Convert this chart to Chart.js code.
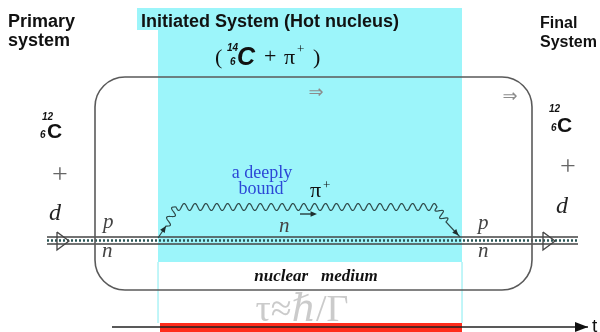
<!DOCTYPE html>
<html>
<head>
<meta charset="utf-8">
<title>Hot nucleus</title>
<script src="https://cdn.jsdelivr.net/npm/chart.js@4"></script>
<style>
  body { margin: 0; background: #fff; }
  canvas { display: block; }
</style>
</head>
<body>
<canvas id="diagram" width="600" height="332"></canvas>
<script>
// The figure is laid out in its own units: 600 across, 332 down (y grows downwards)

// time window of the initiated system (hot nucleus)
const titleBand = [[137, 8], [462, 8], [462, 30], [137, 30], [137, 8]];
const hotBand = [[158, 30], [462, 30], [462, 262], [158, 262], [158, 30]];
const lifetimeBar = [[160, 323], [462, 323], [462, 332], [160, 332], [160, 323]];
const windowLeft = [[158, 262], [158, 323]];
const windowRight = [[462, 262], [462, 323]];

// nucleus box: left, top, right, bottom, corner
const nucleusBox = [95, 77, 532, 290, 30];

// deuteron legs running through the nucleus
const protonLine = [[47, 237], [578, 237]];
const beadLine = [[47, 240.5], [578, 240.5]];
const neutronLine = [[47, 244], [578, 244]];
const arrowIn = [[57, 232], [69, 241], [57, 250], [57, 232]];
const arrowOut = [[543, 232], [555, 241], [543, 250], [543, 232]];

// pion path: emitted by the neutron, bound for a while, reabsorbed
const pionPath = [[158, 238], [166, 226], [176, 207], [437, 207], [446, 222], [460, 237]];
const pionWiggly = [false, true, true, true, false];
const pionArrows = [[[158, 238], [166, 226]], [[446, 222], [460, 237]], [[300, 214], [317, 214]]];

// time axis
const timeAxis = [[112, 327], [588, 327]];

// text: string, x, baseline, style, align
const labels = [
  ['Primary', 8, 27, 'head'],
  ['system', 8, 46, 'head'],
  ['Final', 540, 28, 'headR'],
  ['System', 540, 47, 'headR'],
  ['Initiated System (Hot nucleus)', 141, 27, 'title'],
  ['(', 215, 64, 'sym'],
  ['14', 227, 51, 'iso'],
  ['6', 230, 65, 'iso'],
  ['C', 237, 65, 'cHot'],
  ['+', 264, 63, 'sym'],
  ['π', 284, 64, 'sym'],
  ['+', 297, 53, 'sup'],
  [')', 313, 64, 'sym'],
  ['⇒', 316, 98, 'arrow', 'center'],
  ['⇒', 510, 102, 'arrow', 'center'],
  ['12', 42, 120, 'iso'],
  ['6', 40, 138, 'iso'],
  ['C', 47, 138, 'cNuc'],
  ['12', 549, 112, 'iso'],
  ['6', 551, 131, 'iso'],
  ['C', 557, 132, 'cNuc'],
  ['+', 60, 183, 'plus', 'center'],
  ['+', 568, 175, 'plus', 'center'],
  ['d', 49, 220, 'big'],
  ['d', 556, 213, 'big'],
  ['p', 103, 228, 'leg'],
  ['n', 102, 257, 'leg'],
  ['p', 478, 229, 'leg'],
  ['n', 478, 257, 'leg'],
  ['n', 279, 232, 'leg'],
  ['a deeply', 262, 178, 'blue', 'center'],
  ['bound', 261, 194, 'blue', 'center'],
  ['π', 310, 197, 'sym'],
  ['+', 323, 189, 'sup'],
  ['nuclear   medium', 316, 281, 'medium', 'center'],
  ['τ≈ℏ/Γ', 302, 321, 'tau', 'center'],
  ['t', 592, 332, 'axisT'],
];

const styles = {
  head: ['bold 18px "Liberation Sans"', '#111'],
  headR: ['bold 16px "Liberation Sans"', '#111'],
  title: ['bold 18px "Liberation Sans"', '#111'],
  sym: ['22px "Liberation Serif"', '#111'],
  sup: ['13px "Liberation Serif"', '#111'],
  iso: ['italic bold 10px "Liberation Sans"', '#111'],
  cHot: ['italic bold 25px "Liberation Sans"', '#111'],
  cNuc: ['bold 21px "Liberation Sans"', '#111'],
  arrow: ['18px "DejaVu Sans"', '#8c8c8c'],
  plus: ['28px "Liberation Serif"', '#666'],
  big: ['italic 24px "Liberation Serif"', '#222'],
  leg: ['italic 21px "Liberation Serif"', '#444'],
  blue: ['18px "Liberation Serif"', '#2c48d6'],
  medium: ['italic bold 17px "Liberation Serif"', '#111'],
  tau: ['38px "Liberation Serif", "DejaVu Serif"', '#cbcbcb'],
  axisT: ['19px "Liberation Sans"', '#111'],
};

const toPts = arr => arr.map(([x, y]) => ({ x: x, y: y }));

function area(pts, color, order) {
  return { data: toPts(pts), fill: 'shape', backgroundColor: color, borderWidth: 0, order: order };
}

function stroke(pts, color, width, order, dash) {
  return { data: toPts(pts), fill: false, borderColor: color, borderWidth: width, borderDash: dash || [], borderCapStyle: 'butt', order: order };
}

// rounded box, wavy pion, arrow heads and all text are drawn here through the scales
const overlay = {
  id: 'overlay',
  afterDatasetsDraw(chart) {
    const ctx = chart.ctx;
    const px = v => chart.scales.x.getPixelForValue(v);
    const py = v => chart.scales.y.getPixelForValue(v);
    ctx.save();

    // nucleus box
    const [l, t, r, b, rad] = nucleusBox;
    ctx.beginPath();
    ctx.roundRect(px(l), py(t), px(r) - px(l), py(b) - py(t), rad);
    ctx.strokeStyle = '#5a5a5a';
    ctx.lineWidth = 1.6;
    ctx.stroke();

    // pion line
    ctx.beginPath();
    ctx.strokeStyle = '#2f4a4a';
    ctx.lineWidth = 1.2;
    ctx.moveTo(px(pionPath[0][0]), py(pionPath[0][1]));
    for (let i = 1; i < pionPath.length; i++) {
      const x0 = px(pionPath[i - 1][0]), y0 = py(pionPath[i - 1][1]);
      const x1 = px(pionPath[i][0]), y1 = py(pionPath[i][1]);
      if (!pionWiggly[i - 1]) { ctx.lineTo(x1, y1); continue; }
      const len = Math.hypot(x1 - x0, y1 - y0);
      const ux = (x1 - x0) / len, uy = (y1 - y0) / len;
      const waves = Math.max(1, Math.round(len / 11));
      for (let s = 0; s <= len; s += 0.5) {
        const off = 3.5 * Math.sin(2 * Math.PI * waves * s / len);
        ctx.lineTo(x0 + ux * s - uy * off, y0 + uy * s + ux * off);
      }
      ctx.lineTo(x1, y1);
    }
    ctx.stroke();

    // small arrow heads
    ctx.fillStyle = '#1e2e2e';
    ctx.strokeStyle = '#1e2e2e';
    pionArrows.forEach(([a, e], k) => {
      const x0 = px(a[0]), y0 = py(a[1]), x1 = px(e[0]), y1 = py(e[1]);
      if (k === 2) {
        ctx.beginPath(); ctx.lineWidth = 1.3;
        ctx.moveTo(x0, y0); ctx.lineTo(x1 - 4, y1); ctx.stroke();
      }
      const ang = Math.atan2(y1 - y0, x1 - x0);
      const tx = k === 1 ? x1 - 2 * Math.cos(ang) : x1, ty = k === 1 ? y1 - 2 * Math.sin(ang) : y1;
      ctx.beginPath();
      ctx.moveTo(tx, ty);
      ctx.lineTo(tx - 7 * Math.cos(ang - 0.4), ty - 7 * Math.sin(ang - 0.4));
      ctx.lineTo(tx - 7 * Math.cos(ang + 0.4), ty - 7 * Math.sin(ang + 0.4));
      ctx.closePath();
      ctx.fill();
    });

    // time axis head
    const [ax, ay] = timeAxis[1];
    ctx.fillStyle = '#111';
    ctx.beginPath();
    ctx.moveTo(px(ax), py(ay));
    ctx.lineTo(px(ax) - 13, py(ay) - 5);
    ctx.lineTo(px(ax) - 13, py(ay) + 5);
    ctx.closePath();
    ctx.fill();

    // text
    ctx.textBaseline = 'alphabetic';
    labels.forEach(([str, x, y, key, align]) => {
      ctx.font = styles[key][0];
      ctx.fillStyle = styles[key][1];
      ctx.textAlign = align || 'left';
      ctx.fillText(str, px(x), py(y));
    });
    ctx.restore();
  }
};

new Chart(document.getElementById('diagram'), {
  type: 'line',
  data: {
    datasets: [
      stroke(arrowIn, '#444', 1.3, 1),
      stroke(arrowOut, '#444', 1.3, 1),
      stroke(protonLine, '#444', 1.5, 2),
      stroke(neutronLine, '#444', 1.5, 2),
      stroke(beadLine, '#2b5656', 2.6, 2, [2, 2]),
      stroke(timeAxis, '#222', 1.6, 3),
      stroke(windowLeft, '#b8f4f7', 1, 4),
      stroke(windowRight, '#b8f4f7', 1, 4),
      area(lifetimeBar, '#ff2b1c', 5),
      area(hotBand, '#9cf5fa', 6),
      area(titleBand, '#9cf5fa', 6),
    ]
  },
  options: {
    responsive: false,
    animation: false,
    events: [],
    layout: { padding: 0 },
    elements: { point: { radius: 0 }, line: { tension: 0 } },
    plugins: { legend: { display: false }, tooltip: { enabled: false } },
    scales: {
      x: { type: 'linear', min: 0, max: 600, display: false },
      y: { type: 'linear', min: 0, max: 332, reverse: true, display: false }
    }
  },
  plugins: [overlay]
});
</script>
</body>
</html>
